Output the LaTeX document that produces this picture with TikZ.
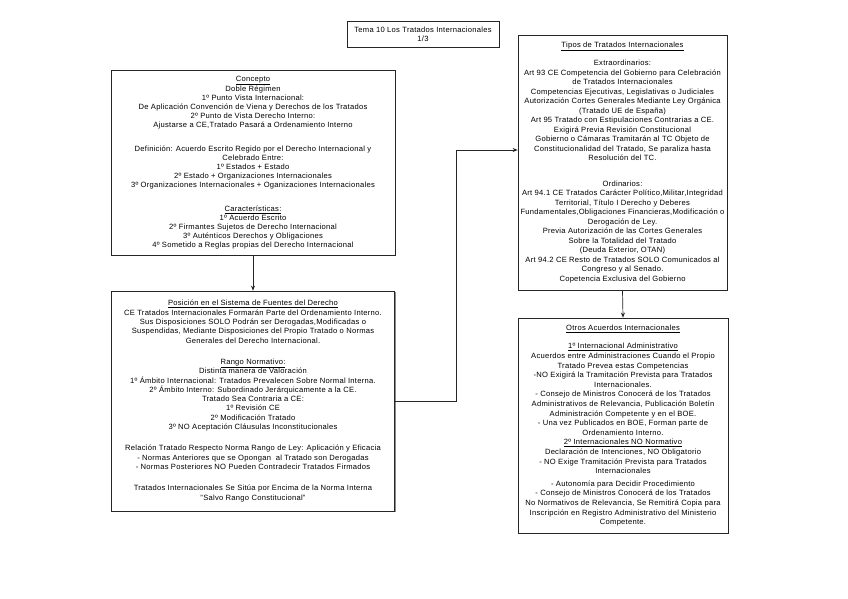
\documentclass[tikz,border=0pt]{standalone}
\usepackage{fontspec}
\setmainfont{Liberation Sans}[LetterSpace=3.5]
\usetikzlibrary{arrows.meta,shadows}
\begin{document}
\begin{tikzpicture}[x=1pt,y=-1pt,
  box/.style={draw=black!85, line width=0.7pt, fill=white, align=center, inner sep=1pt,
    font=\fontsize{7.6}{9.2}\selectfont,
    drop shadow={shadow xshift=1.3pt, shadow yshift=-1.3pt, fill=black!45, opacity=1}},
  arr/.style={draw=black!85, line width=0.7pt, -{Stealth[length=5pt,width=4pt]}}]
\path[fill=white] (0,0) rectangle (848,599);
\useasboundingbox (0,0) rectangle (848,599);

\node[box, minimum width=152pt, minimum height=26pt] (title) at (423,34)
 {Tema 10 Los Tratados Internacionales\\1/3};

\node[box, minimum width=284pt, minimum height=185pt, font=\fontsize{7.6}{9}\selectfont] (con) at (253,162.5)
 {\underline{Concepto}\\
  Doble Régimen\\
  1º Punto Vista Internacional:\\
  De Aplicación Convención de Viena y Derechos de los Tratados\\
  2º Punto de Vista Derecho Interno:\\
  Ajustarse a CE,Tratado Pasará a Ordenamiento Interno\\[15pt]
  Definición: Acuerdo Escrito Regido por el Derecho Internacional y\\
  Celebrado Entre:\\
  1º Estados + Estado\\
  2º Estado + Organizaciones Internacionales\\
  3º Organizaciones Internacionales + Oganizaciones Internacionales\\[15pt]
  \underline{Características:}\\
  1º Acuerdo Escrito\\
  2º Firmantes Sujetos de Derecho Internacional\\
  3º Auténticos Derechos y Obligaciones\\
  4º Sometido a Reglas propias del Derecho Internacional};

\node[box, minimum width=283pt, minimum height=220pt, font=\fontsize{7.6}{9.3}\selectfont] (pos) at (253,401)
 {\underline{Posición en el Sistema de Fuentes del Derecho}\\
  CE Tratados Internacionales Formarán Parte del Ordenamiento Interno.\\
  Sus Disposiciones SOLO Podrán ser Derogadas,Modificadas o\\
  Suspendidas, Mediante Disposiciones del Propio Tratado o Normas\\
  Generales del Derecho Internacional.\\[12pt]
  \underline{Rango Normativo:}\\
  Distinta manera de Valoración\\
  1º Ámbito Internacional: Tratados Prevalecen Sobre Normal Interna.\\
  2º Ámbito Interno: Subordinado Jerárquicamente a la CE.\\
  Tratado Sea Contraria a CE:\\
  1º Revisión CE\\
  2º Modificación Tratado\\
  3º NO Aceptación Cláusulas Inconstitucionales\\[12pt]
  Relación Tratado Respecto Norma Rango de Ley: Aplicación y Eficacia\\
  - Normas Anteriores que se Opongan\ \ al Tratado son Derogadas\\
  - Normas Posteriores NO Pueden Contradecir Tratados Firmados\\[12pt]
  Tratados Internacionales Se Sitúa por Encima de la Norma Interna\\
  "Salvo Rango Constitucional"};

\node[box, minimum width=209pt, minimum height=255pt, font=\fontsize{7.6}{9.5}\selectfont] (tipos) at (622.5,162.5)
 {\underline{Tipos de Tratados Internacionales}\\[9pt]
  Extraordinarios:\\
  Art 93 CE Competencia del Gobierno para Celebración\\
  de Tratados Internacionales\\
  Competencias Ejecutivas, Legislativas o Judiciales\\
  Autorización Cortes Generales Mediante Ley Orgánica\\
  (Tratado UE de España)\\
  Art 95 Tratado con Estipulaciones Contrarias a CE.\\
  Exigirá Previa Revisión Constitucional\\
  Gobierno o Cámaras Tramitarán al TC Objeto de\\
  Constitucionalidad del Tratado, Se paraliza hasta\\
  Resolución del TC.\\[16pt]
  Ordinarios:\\
  Art 94.1 CE Tratados Carácter Político,Militar,Integridad\\
  Territorial, Título I Derecho y Deberes\\
  Fundamentales,Obligaciones Financieras,Modificación o\\
  Derogación de Ley.\\
  Previa Autorización de las Cortes Generales\\
  Sobre la Totalidad del Tratado\\
  (Deuda Exterior, OTAN)\\
  Art 94.2 CE Resto de Tratados SOLO Comunicados al\\
  Congreso y al Senado.\\
  Copetencia Exclusiva del Gobierno};

\node[box, minimum width=210pt, minimum height=215pt, font=\fontsize{7.6}{9.6}\selectfont] (otros) at (623,425.5)
 {\underline{Otros Acuerdos Internacionales}\\[9pt]
  \underline{1º Internacional Administrativo}\\
  Acuerdos entre Administraciones Cuando el Propio\\
  Tratado Prevea estas Competencias\\
  -NO Exigirá la Tramitación Prevista para Tratados\\
  Internacionales.\\
  - Consejo de Ministros Conocerá de los Tratados\\
  Administrativos de Relevancia, Publicación Boletín\\
  Administración Competente y en el BOE.\\
  - Una vez Publicados en BOE, Forman parte de\\
  Ordenamiento Interno.\\
  \underline{2º Internacionales NO Normativo}\\
  Declaración de Intenciones, NO Obligatorio\\
  - NO Exige Tramitación Prevista para Tratados\\
  Internacionales\\[3pt]
  - Autonomía para Decidir Procedimiento\\
  - Consejo de Ministros Conocerá de los Tratados\\
  No Normativos de Relevancia, Se Remitirá Copia para\\
  Inscripción en Registro Administrativo del Ministerio\\
  Competente.};

\coordinate (j1) at (456,401);
\coordinate (j2) at (456,150);
\draw[arr] (con.south) -- (pos.north);
\draw[arr] (tipos.south) -- (otros.north);
\draw[arr] (pos.east) -- (j1) -- (j2) -- (j2 -| tipos.west);
\end{tikzpicture}
\end{document}
